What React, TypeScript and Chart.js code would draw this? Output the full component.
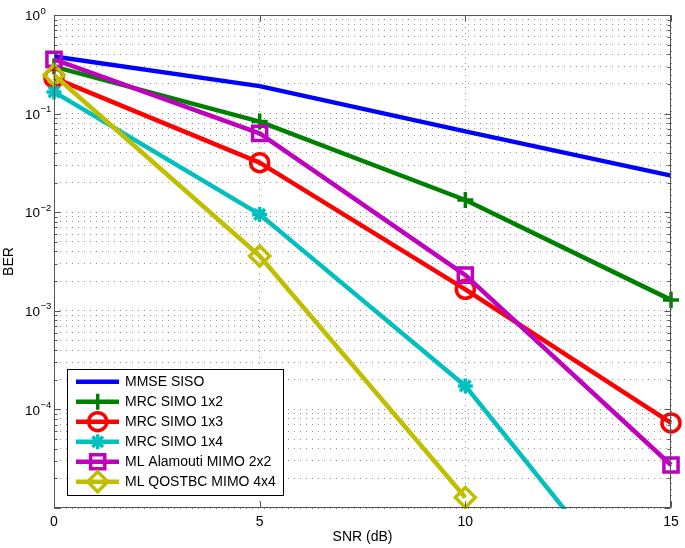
import React, { useEffect, useRef } from 'react';
import { Chart, registerables } from 'chart.js';

Chart.register(...registerables);

// ---------------- data ----------------
const snrDb = [0, 5, 10, 15];

const seriesLabels = [
  'MMSE SISO',
  'MRC SIMO 1x2',
  'MRC SIMO 1x3',
  'MRC SIMO 1x4',
  'ML Alamouti MIMO 2x2',
  'ML QOSTBC MIMO 4x4',
];

const mmseSiso = [0.38, 0.19, 0.066, 0.0235];
const mrcSimo1x2 = [0.3, 0.083, 0.0133, 0.00129];
const mrcSimo1x3 = [0.23, 0.0318, 0.00165, 7.3e-5];
const mrcSimo1x4 = [0.166, 0.0095, 1.73e-4, 4.4e-7];
const mlAlamouti2x2 = [0.355, 0.063, 0.0023, 2.73e-5];
const mlQostbc4x4: (number | null)[] = [0.246, 0.0036, 1.28e-5, null];

const seriesValues = [mmseSiso, mrcSimo1x2, mrcSimo1x3, mrcSimo1x4, mlAlamouti2x2, mlQostbc4x4];

const seriesColors = ['#0000FF', '#008000', '#FF0000', '#00BFBF', '#BF00BF', '#BFBF00'];
const seriesMarkers = ['none', 'cross', 'circle', 'star', 'rect', 'rectRot'];
const markerRadius = [0, 8, 9, 7.5, 10, 10];

const xTickValues = [0, 5, 10, 15];
const yDecadeExponents = [-5, -4, -3, -2, -1, 0];
const yLabelExponents = [0, -1, -2, -3, -4];
const minorMultipliers = [1, 2, 3, 4, 5, 6, 7, 8, 9];

const xTitle = 'SNR (dB)';
const yTitle = 'BER';

// ---------------- drawing helpers ----------------
const FONT = '"Liberation Sans", Arial, Helvetica, sans-serif';
const GRID_COLOR = 'rgba(0,0,0,0.42)';
const GRID_DASH = [1, 5];

function drawMarker(ctx: CanvasRenderingContext2D, style: string, x: number, y: number, r: number) {
  ctx.beginPath();
  if (style === 'circle') {
    ctx.arc(x, y, r, 0, Math.PI * 2);
  } else if (style === 'cross') {
    ctx.moveTo(x - r, y); ctx.lineTo(x + r, y);
    ctx.moveTo(x, y - r); ctx.lineTo(x, y + r);
  } else if (style === 'star') {
    ctx.moveTo(x - r, y); ctx.lineTo(x + r, y);
    ctx.moveTo(x, y - r); ctx.lineTo(x, y + r);
    const d = r * Math.SQRT1_2;
    ctx.moveTo(x - d, y - d); ctx.lineTo(x + d, y + d);
    ctx.moveTo(x - d, y + d); ctx.lineTo(x + d, y - d);
  } else if (style === 'rect') {
    const s = r * Math.SQRT1_2;
    ctx.rect(x - s, y - s, 2 * s, 2 * s);
  } else if (style === 'rectRot') {
    ctx.moveTo(x - r, y); ctx.lineTo(x, y - r); ctx.lineTo(x + r, y); ctx.lineTo(x, y + r);
    ctx.closePath();
  }
  ctx.stroke();
}

const matlabPlugin = {
  id: 'matlabDecor',
  afterDatasetsDraw(chart: any) {
    const { ctx, chartArea } = chart;
    const { left, right, top, bottom } = chartArea;
    const xs = chart.scales.x;
    const ys = chart.scales.y;
    ctx.save();
    // frame
    ctx.strokeStyle = '#555555';
    ctx.lineWidth = 1;
    const L = Math.round(left) + 0.5;
    const R = Math.round(right) - 0.5;
    const T = Math.round(top) + 0.5;
    const B = Math.round(bottom) - 0.5;
    ctx.beginPath();
    ctx.rect(L, T, R - L, B - T);
    ctx.stroke();
    // y ticks (inward, both sides)
    ctx.beginPath();
    yDecadeExponents.forEach((k) => {
      minorMultipliers.forEach((m) => {
        const v = m * Math.pow(10, k);
        if (v > 1.0000001) return;
        const py = Math.round(ys.getPixelForValue(v)) + 0.5;
        const len = m === 1 ? 6 : 3;
        ctx.moveTo(L, py); ctx.lineTo(L + len, py);
        ctx.moveTo(R, py); ctx.lineTo(R - len, py);
      });
    });
    // x ticks (inward, top & bottom)
    xTickValues.forEach((v) => {
      const px = Math.round(xs.getPixelForValue(v)) + 0.5;
      ctx.moveTo(px, B); ctx.lineTo(px, B - 6);
      ctx.moveTo(px, T); ctx.lineTo(px, T + 6);
    });
    ctx.stroke();
    // y tick labels 10^k
    ctx.fillStyle = '#000000';
    ctx.textAlign = 'left';
    ctx.textBaseline = 'middle';
    yLabelExponents.forEach((k) => {
      const py = ys.getPixelForValue(Math.pow(10, k));
      ctx.font = `13.5px ${FONT}`;
      ctx.fillText('10', left - 29, py + 1.5);
      ctx.font = `9.5px ${FONT}`;
      const e = k === 0 ? '0' : '\u2212' + Math.abs(k);
      ctx.fillText(e, left - 13.5, py - 4);
    });
    ctx.restore();
  },
  afterDraw(chart: any) {
    const { ctx, chartArea } = chart;
    const bx = chartArea.left + 13;
    const by = chartArea.bottom - 139;
    const bw = 216;
    const bh = 126;
    ctx.save();
    ctx.fillStyle = '#FFFFFF';
    ctx.fillRect(bx, by, bw, bh);
    ctx.strokeStyle = '#000000';
    ctx.lineWidth = 1;
    ctx.strokeRect(Math.round(bx) + 0.5, Math.round(by) + 0.5, bw, bh);
    ctx.font = `14px ${FONT}`;
    ctx.textAlign = 'left';
    ctx.textBaseline = 'middle';
    seriesLabels.forEach((label, i) => {
      const ry = by + 12.7 + 20 * i;
      const c = seriesColors[i];
      ctx.strokeStyle = c;
      ctx.lineWidth = 4.5;
      ctx.lineCap = 'butt';
      ctx.beginPath();
      ctx.moveTo(bx + 9, ry);
      ctx.lineTo(bx + 52, ry);
      ctx.stroke();
      if (seriesMarkers[i] !== 'none') {
        ctx.lineWidth = 3.5;
        drawMarker(ctx, seriesMarkers[i], bx + 30.7, ry, markerRadius[i]);
      }
      ctx.fillStyle = '#000000';
      ctx.fillText(label, bx + 58, ry + 0.5);
    });
    ctx.restore();
  },
};

export default function App() {
  const canvasRef = useRef<HTMLCanvasElement | null>(null);

  useEffect(() => {
    document.body.style.margin = '0';
    const canvas = canvasRef.current;
    if (!canvas) return;
    Chart.defaults.font.family = FONT;

    const datasets = seriesLabels.map((label, i) => {
      const c = seriesColors[i];
      const mk = seriesMarkers[i];
      return {
        label,
        data: snrDb.map((x, j) => ({ x, y: seriesValues[i][j] })),
        borderColor: c,
        backgroundColor: 'rgba(0,0,0,0)',
        borderWidth: 4.5,
        borderJoinStyle: 'round' as const,
        pointStyle: mk === 'none' ? false : mk,
        pointRadius: mk === 'none' ? 0 : markerRadius[i],
        pointHoverRadius: mk === 'none' ? 0 : markerRadius[i],
        pointBorderWidth: 3.5,
        pointBorderColor: c,
        pointBackgroundColor: 'rgba(0,0,0,0)',
        tension: 0,
        spanGaps: false,
        order: seriesLabels.length - 1 - i,
        clip: { left: 20, top: 20, right: 20, bottom: 1 },
      };
    });

    const chart = new Chart(canvas, {
      type: 'line',
      data: { datasets: datasets as any },
      options: {
        responsive: false,
        animation: false,
        events: [],
        layout: { padding: { left: 0, right: 14, top: 15, bottom: 0 } },
        plugins: {
          legend: { display: false },
          tooltip: { enabled: false },
        },
        scales: {
          x: {
            type: 'linear',
            min: 0,
            max: 15,
            afterBuildTicks: (s: any) => {
              s.ticks = xTickValues.map((v) => ({ value: v }));
            },
            afterFit: (s: any) => {
              s.height = 40;
            },
            grid: { color: GRID_COLOR, lineWidth: 1, drawTicks: false },
            border: { display: false, dash: GRID_DASH },
            ticks: {
              color: '#000000',
              font: { size: 14, family: FONT },
              padding: 6,
              autoSkip: false,
              maxRotation: 0,
              callback: (v: any) => String(v),
            },
            title: {
              display: true,
              text: xTitle,
              color: '#000000',
              font: { size: 14, family: FONT },
              padding: { top: 0, bottom: 2 },
            },
          },
          y: {
            type: 'logarithmic',
            min: 1e-5,
            max: 1,
            afterBuildTicks: (s: any) => {
              const t: any[] = [];
              yDecadeExponents.forEach((k) => {
                minorMultipliers.forEach((m) => {
                  const v = m * Math.pow(10, k);
                  if (v <= 1.0000001) t.push({ value: v, major: m === 1 });
                });
              });
              s.ticks = t;
            },
            afterFit: (s: any) => {
              s.width = 54;
            },
            grid: { color: GRID_COLOR, lineWidth: 1, drawTicks: false },
            border: { display: false, dash: GRID_DASH },
            ticks: { display: false, autoSkip: false },
            title: {
              display: true,
              text: yTitle,
              color: '#000000',
              font: { size: 14, family: FONT },
              padding: { top: 1, bottom: 0 },
            },
          },
        },
      },
      plugins: [matlabPlugin],
    });

    return () => {
      chart.destroy();
    };
  }, []);

  return (
    <div style={{ position: 'fixed', left: 0, top: 0, width: 685, height: 548, background: '#FFFFFF' }}>
      <canvas ref={canvasRef} width={685} height={548} style={{ display: 'block' }} />
    </div>
  );
}
